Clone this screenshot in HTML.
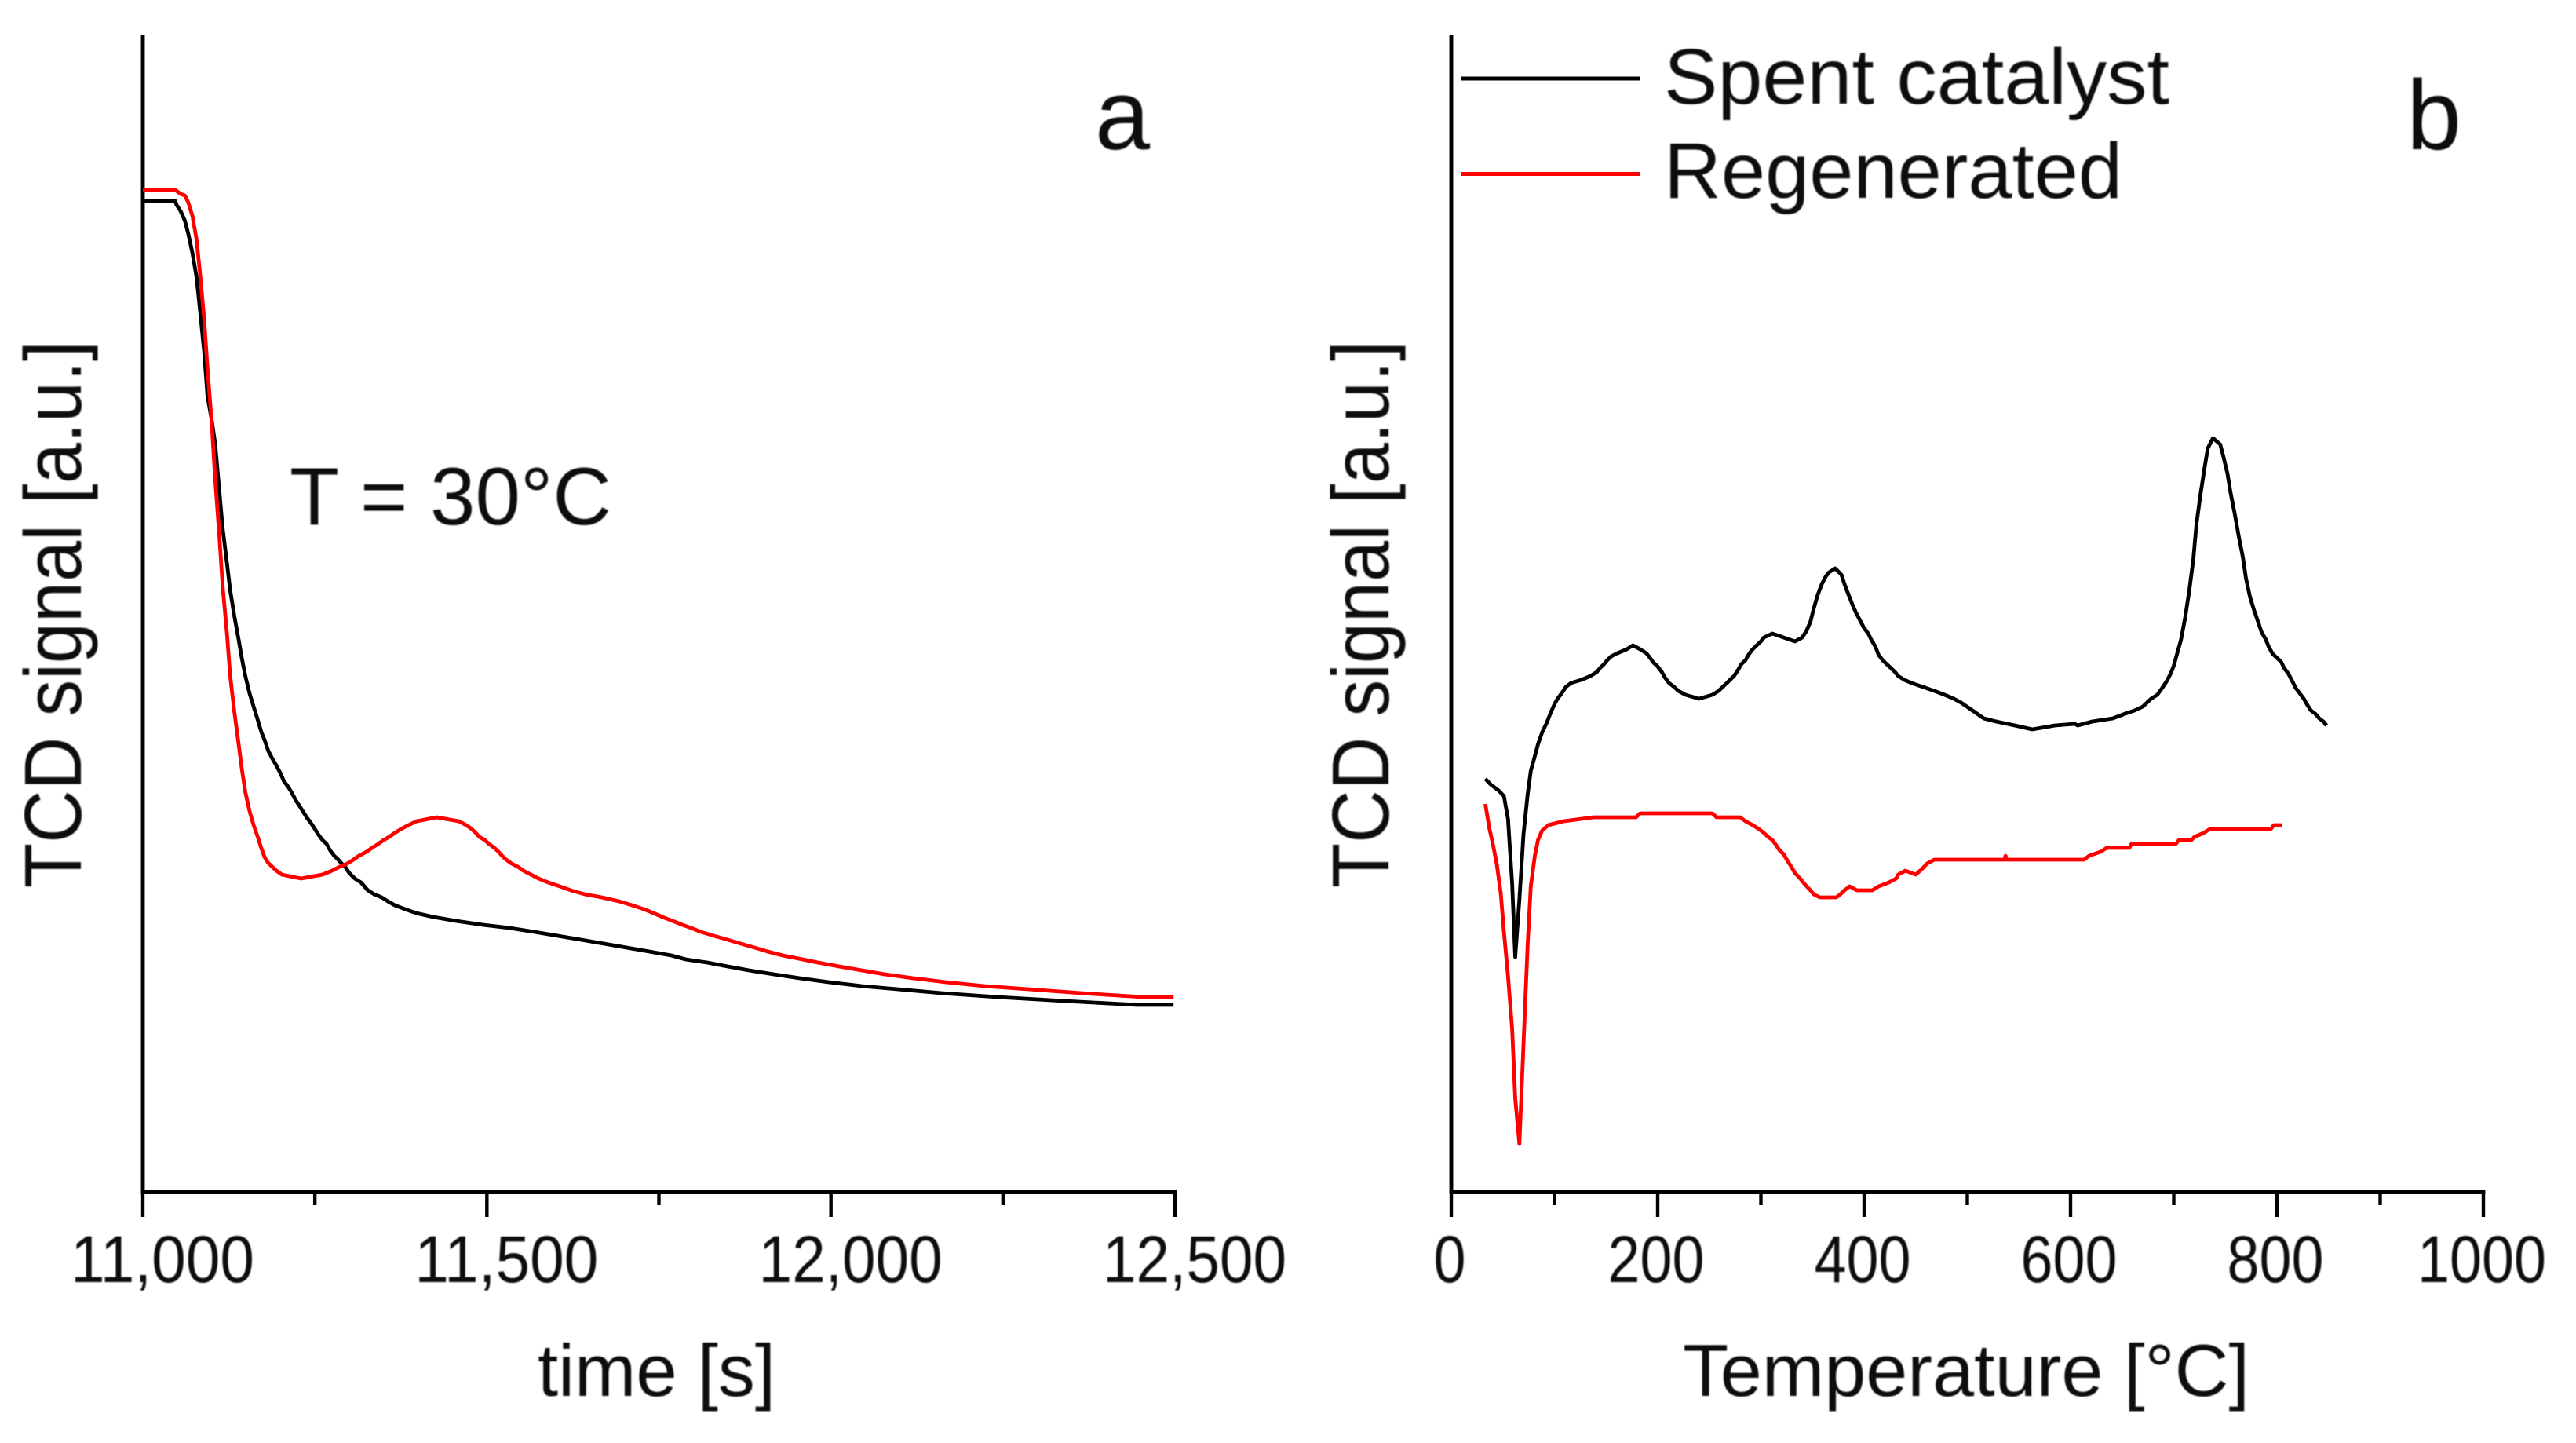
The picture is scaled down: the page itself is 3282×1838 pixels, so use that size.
<!DOCTYPE html>
<html lang="en">
<head>
<meta charset="utf-8">
<title>TCD signal charts</title>
<style>
html,body{margin:0;padding:0;background:#fff;}
svg{display:block;}
text{font-family:"Liberation Sans",Arial,sans-serif;fill:#0c0c0c;}
</style>
</head>
<body>
<svg id="chart" xmlns="http://www.w3.org/2000/svg" width="3282" height="1838" viewBox="0 0 3282 1838">
<defs><filter id="soft" x="-5%" y="-5%" width="110%" height="110%"><feGaussianBlur stdDeviation="0.9"/></filter></defs>
<rect width="3282" height="1838" fill="#fff"/>

<g id="panel-a"></g>
<g id="panel-b"></g>

<g filter="url(#soft)">
<text transform="translate(103,1131) rotate(-90)" font-size="103" textLength="697" lengthAdjust="spacingAndGlyphs">TCD signal [a.u.]</text>
<text x="685" y="1778" font-size="94" textLength="303" lengthAdjust="spacingAndGlyphs">time [s]</text>
<text x="1395" y="190" font-size="126">a</text>
<text x="369" y="668" font-size="104" textLength="410" lengthAdjust="spacingAndGlyphs">T = 30°C</text>
<text transform="translate(1769,1131) rotate(-90)" font-size="103" textLength="697" lengthAdjust="spacingAndGlyphs">TCD signal [a.u.]</text>
<text x="2144" y="1778" font-size="94" textLength="722" lengthAdjust="spacingAndGlyphs">Temperature [°C]</text>
<text x="3066" y="190" font-size="126">b</text>
<text x="2120" y="132" font-size="100" textLength="644" lengthAdjust="spacingAndGlyphs">Spent catalyst</text>
<text x="2120" y="252" font-size="100" textLength="584" lengthAdjust="spacingAndGlyphs">Regenerated</text>
</g>
<line x1="1861" y1="100" x2="2089" y2="100" stroke="#000" stroke-width="5"/>
<line x1="1861" y1="221.5" x2="2089" y2="221.5" stroke="#f00" stroke-width="5"/>
</svg>

<script>
// Panel a: time [s] vs TCD signal (a.u.)
const timeTicksA = [11000, 11500, 12000, 12500];
const timeMinorTicksA = [11250, 11750, 12250];
const timeTickLabelsA = ["11,000", "11,500", "12,000", "12,500"];

const spentTimeA = [11000,11047,11049,11055,11061,11066,11072,11078,11083,11089,11094,11100,11105,11111,11116,11122,11127,11133,11139,11144,11149,11155,11161,11167,11172,11177,11182,11188,11194,11200,11205,11211,11216,11222,11228,11233,11238,11244,11250,11255,11261,11267,11272,11278,11284,11289,11294,11300,11308,11317,11322,11327,11336,11347,11356,11366,11381,11397,11422,11455,11494,11533,11569,11603,11637,11670,11703,11736,11768,11789,11820,11850,11881,11917,11955,11997,12045,12097,12161,12242,12339,12445,12498];
const spentSignalA = [1263,1263,1258,1250,1238,1221,1197,1166,1124,1072,1014,984,954,895,846,803,767,734,705,680,658,636,619,602,587,576,563,553,544,534,524,517,510,500,492,485,478,471,463,456,449,444,436,429,424,419,415,407,400,395,390,385,380,376,371,366,361,356,351,346,341,337,332,327,322,317,312,307,302,297,293,288,283,278,273,268,263,259,254,249,244,239,239];

const regenTimeA = [11000,11047,11055,11061,11066,11072,11078,11083,11089,11094,11100,11105,11111,11116,11122,11127,11133,11139,11144,11149,11155,11161,11167,11172,11177,11182,11188,11194,11202,11230,11261,11275,11286,11297,11306,11314,11325,11333,11342,11350,11358,11366,11375,11386,11398,11427,11459,11470,11478,11484,11489,11497,11503,11511,11517,11522,11528,11536,11545,11553,11564,11575,11589,11606,11622,11642,11667,11692,11711,11728,11742,11755,11770,11784,11797,11811,11830,11850,11869,11889,11908,11930,11953,11981,12012,12045,12078,12120,12167,12223,12287,12364,12453,12498];
const regenSignalA = [1277,1277,1272,1270,1261,1244,1214,1171,1114,1049,981,909,839,772,714,658,612,572,539,510,486,468,453,439,427,420,415,410,405,400,405,410,415,419,424,429,434,439,444,449,453,458,463,468,473,478,473,468,463,458,453,449,444,439,434,429,424,419,415,410,405,400,395,390,385,380,376,371,366,361,356,351,346,341,337,332,327,322,317,312,307,302,298,293,288,283,278,273,268,263,259,254,249,249];

// Panel b: temperature [°C] vs TCD signal (a.u.)
const tempTicksB = [0, 200, 400, 600, 800, 1000];
const tempMinorTicksB = [100, 300, 500, 700, 900];
const tempTickLabelsB = ["0", "200", "400", "600", "800", "1000"];

const spentTempB = [33,38,46,51,55,59,62,66,70,74,77,81,84,88,92,96,100,103,107,111,116,126,135,141,144,148,151,155,161,170,176,183,189,192,196,200,204,207,211,216,220,227,240,253,259,263,267,270,274,278,281,285,288,292,296,300,303,311,322,333,340,344,348,351,355,359,363,366,372,378,381,385,389,392,396,400,404,407,411,414,418,422,426,430,433,439,446,457,468,478,487,494,505,516,528,546,563,585,604,607,621,641,653,662,670,678,684,689,693,697,700,703,707,711,715,719,722,726,730,733,738,745,748,752,755,759,763,767,770,774,778,782,785,789,792,796,800,804,807,811,815,818,822,826,829,833,837,841,845,848];
const spentSignalB = [527,520,512,505,476,393,300,373,456,507,537,556,571,586,597,610,622,629,636,644,649,653,658,663,668,673,678,683,687,692,697,692,687,682,675,670,663,656,649,644,639,634,629,634,639,644,649,653,658,666,673,678,685,692,697,702,707,712,707,702,707,715,727,743,761,775,785,790,795,787,775,761,748,739,729,719,712,704,695,685,678,673,668,663,658,653,649,644,639,634,629,624,614,604,600,595,590,595,597,595,600,604,610,614,619,629,634,643,651,661,671,685,704,732,766,807,851,890,924,948,961,953,938,916,892,865,836,809,782,758,741,726,714,705,695,686,681,676,668,661,651,643,636,629,622,614,610,604,600,595];

const regenTempB = [33,37,40,44,48,51,55,59,62,66,70,74,77,81,84,88,94,109,138,179,183,253,257,280,285,292,298,303,307,311,314,318,322,326,330,333,338,343,348,351,357,373,377,381,386,393,408,414,424,431,433,440,450,456,461,468,536,537,538,613,618,629,635,657,659,702,705,717,720,729,735,794,797,805];
const regenSignalB = [495,463,446,419,381,332,276,208,120,62,188,315,390,429,449,461,468,473,478,478,483,483,478,478,473,468,463,458,453,449,444,436,431,422,414,407,400,392,385,380,376,376,380,385,390,385,385,390,395,400,405,410,405,412,419,424,424,429,424,424,429,434,439,439,444,444,449,449,453,458,463,463,468,468];

const SVG_NS = "http://www.w3.org/2000/svg";
const AXIS_BOTTOM = 1519;
const AXIS_TOP = 45;
const SIGNAL_MAX = 1474;
const PLOT_WIDTH = 1315;

function xA(t) { return 182 + (t - 11000) / 1500 * PLOT_WIDTH; }
function xB(t) { return 1849 + t / 1000 * PLOT_WIDTH; }
function yS(s) { return AXIS_BOTTOM - s / SIGNAL_MAX * (AXIS_BOTTOM - AXIS_TOP); }

function make(tag, attrs, parent) {
  const el = document.createElementNS(SVG_NS, tag);
  for (const k in attrs) el.setAttribute(k, attrs[k]);
  parent.appendChild(el);
  return el;
}

function drawSeries(parent, xs, ys, xScale, color, name) {
  const pts = xs.map(function (x, i) { return xScale(x).toFixed(1) + "," + yS(ys[i]).toFixed(1); }).join(" ");
  const line = make("polyline", { points: pts, fill: "none", stroke: color, "stroke-width": 4.8, "stroke-linejoin": "round" }, parent);
  
  
}

function drawAxes(parent, xScale, ticks, minorTicks, labels, labelOffset, charWidth, prefix) {
  const x0 = xScale(ticks[0]);
  const x1 = xScale(ticks[ticks.length - 1]);
  const yAxis = make("line", { x1: x0, y1: AXIS_TOP, x2: x0, y2: AXIS_BOTTOM + 2, stroke: "#000", "stroke-width": 4.9 }, parent);
  
  
  const xAxis = make("line", { x1: x0 - 2.4, y1: AXIS_BOTTOM - 0.5, x2: x1 + 2.4, y2: AXIS_BOTTOM - 0.5, stroke: "#000", "stroke-width": 5 }, parent);
  
  
  ticks.forEach(function (t, i) {
    const tick = make("line", { x1: xScale(t), y1: AXIS_BOTTOM, x2: xScale(t), y2: 1550, stroke: "#000", "stroke-width": 4.4 }, parent);
    
    
    const label = make("text", { x: xScale(t) + labelOffset, y: 1633, "font-size": 84, "text-anchor": "middle", textLength: labels[i].length * charWidth, lengthAdjust: "spacingAndGlyphs", filter: "url(#soft)" }, parent);
    
    
    label.textContent = labels[i];
  });
  minorTicks.forEach(function (t) {
    const tick = make("line", { x1: xScale(t), y1: AXIS_BOTTOM, x2: xScale(t), y2: 1535, stroke: "#000", "stroke-width": 4.4 }, parent);
    
    
  });
}

const panelA = document.getElementById("panel-a");
const panelB = document.getElementById("panel-b");

drawAxes(panelA, xA, timeTicksA, timeMinorTicksA, timeTickLabelsA, 25, 39, "panel-a");
drawSeries(panelA, spentTimeA, spentSignalA, xA, "#000", "panel-a-spent-catalyst-line");
drawSeries(panelA, regenTimeA, regenSignalA, xA, "#f00", "panel-a-regenerated-line");

drawAxes(panelB, xB, tempTicksB, tempMinorTicksB, tempTickLabelsB, -2, 41, "panel-b");
drawSeries(panelB, spentTempB, spentSignalB, xB, "#000", "panel-b-spent-catalyst-line");
drawSeries(panelB, regenTempB, regenSignalB, xB, "#f00", "panel-b-regenerated-line");
</script>
</body>
</html>
